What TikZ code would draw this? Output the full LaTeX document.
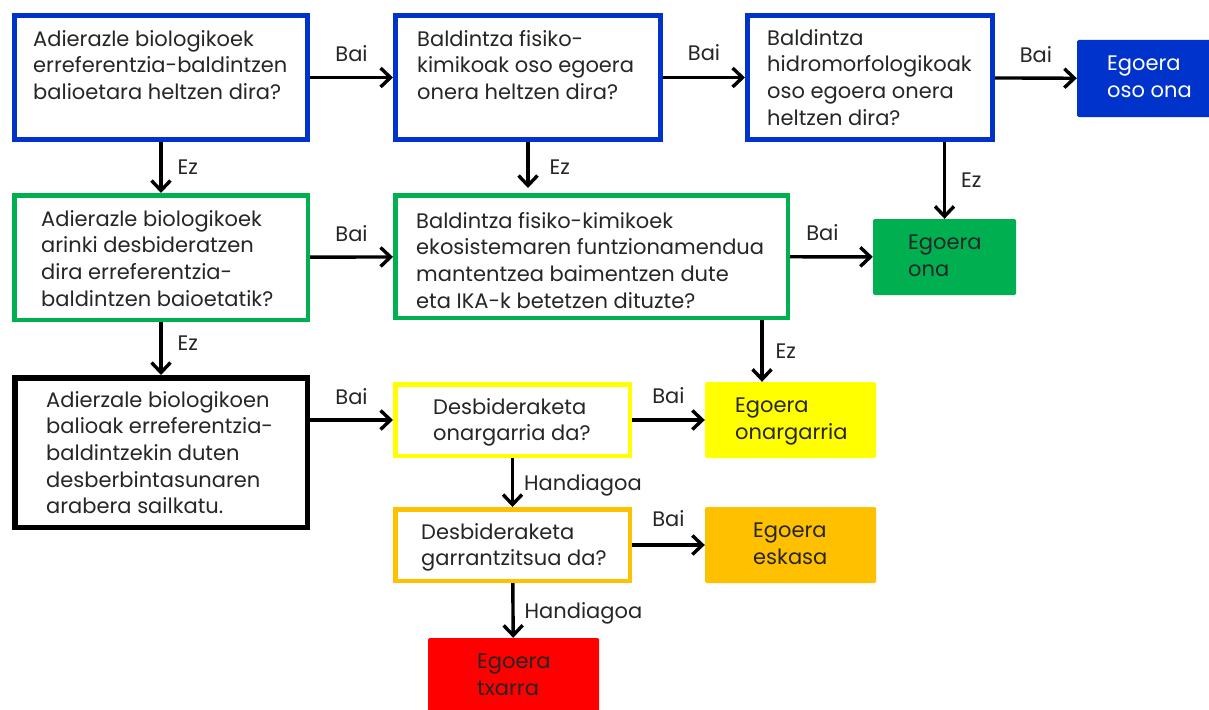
\documentclass[tikz,border=0pt]{standalone}
\usepackage{fontspec}
\setmainfont{Poppins}
\usetikzlibrary{arrows.meta}
\definecolor{qblue}{RGB}{0,51,204}
\definecolor{qgreen}{RGB}{0,176,80}
\definecolor{qyellow}{RGB}{255,255,0}
\definecolor{qorange}{RGB}{255,192,0}
\definecolor{qred}{RGB}{255,0,0}
\definecolor{qtext}{RGB}{38,38,38}

\begin{document}
\begin{tikzpicture}[x=1pt,y=-1pt,
  sz/.style 2 args={minimum width=#1pt,minimum height=#2pt},
  qbox/.style={draw=#1,line width=4.5pt,fill=white,inner sep=0pt},
  endbox/.style={fill=#1,rounded corners=1.5pt,inner sep=0pt},
  txt/.style={anchor=north west,inner sep=0pt,align=left,text=qtext,
    font=\fontsize{21}{26.7}\selectfont},
  lbl/.style={inner sep=0pt,text=qtext,text depth=0pt,
    font=\fontsize{21}{26}\selectfont},
  arr/.style={line width=3.4pt,-{Straight Barb[length=10pt,width=19pt]}}]
 \useasboundingbox (0,0) rectangle (1209,709);
 % question boxes
 \node[qbox=qblue,line width=5pt,sz={293}{124}] (a1) at (161,77.5) {};
 \node[qbox=qblue,line width=5pt,sz={265}{124}] (a2) at (528,77.5) {};
 \node[qbox=qblue,line width=5pt,sz={245}{124}] (a3) at (870,77.5) {};
 \node[qbox=qgreen,sz={293.5}{124.5}] (b1) at (161,257.5) {};
 \node[qbox=qgreen,sz={392.5}{122.5}] (b2) at (591.5,256.5) {};
 \node[qbox=black,line width=5.5pt,sz={292.5}{149.5}] (c1) at (161,452.5) {};
 \node[qbox=qyellow,sz={234.5}{71.5}] (d1) at (512.5,420) {};
 \node[qbox=qorange,sz={234.5}{71.5}] (d2) at (512.5,545) {};
 % result boxes
 \node[endbox=qblue,sz={138}{77}] (osoona) at (1146,78.5) {};
 \node[endbox=qgreen,sz={143}{76}] (ona) at (944.5,257) {};
 \node[endbox=qyellow,sz={171}{76}] (onarg) at (790.5,420) {};
 \node[endbox=qorange,sz={171}{76}] (eskasa) at (790.5,545) {};
 \node[endbox=qred,sz={171}{76}] (txarra) at (513.5,676) {};
 % texts
 \node[txt] (a1t) at (33,30) {Adierazle biologikoek\\erreferentzia-baldintzen\\balioetara heltzen dira?};
 \node[txt] (a2t) at (417,30) {Baldintza fisiko-\\kimikoak oso egoera\\onera heltzen dira?};
 \node[txt] (a3t) at (767,29) {Baldintza\\hidromorfologikoak\\oso egoera onera\\heltzen dira?};
 \node[txt] (b1t) at (41,210) {Adierazle biologikoek\\arinki desbideratzen\\dira erreferentzia-\\baldintzen baioetatik?};
 \node[txt] (b2t) at (416,212) {Baldintza fisiko-kimikoek\\ekosistemaren funtzionamendua\\mantentzea baimentzen dute\\eta IKA-k betetzen dituzte?};
 \node[txt] (c1t) at (46,391) {Adierzale biologikoen\\balioak erreferentzia-\\baldintzekin duten\\desberbintasunaren\\arabera sailkatu.};
 \node[txt] (d1t) at (433,398) {Desbideraketa\\onargarria da?};
 \node[txt] (d2t) at (421,523) {Desbideraketa\\garrantzitsua da?};
 \node[txt,text=white] (osoonat) at (1107,56) {Egoera\\oso ona};
 \node[txt] (onat) at (908,235) {Egoera\\ona};
 \node[txt] (onargt) at (735,398) {Egoera\\onargarria};
 \node[txt] (eskasat) at (753,523) {Egoera\\eskasa};
 \node[txt] (txarrat) at (477,654) {Egoera\\txarra};
 % arrows
 \draw[arr] (a1) -- node[lbl,above=14pt] (bai1) {Bai} (a2);
 \draw[arr] (a2) -- node[lbl,above=15pt] (bai2) {Bai} (a3);
 \draw[arr] (a3) -- node[lbl,above=14pt] (bai3) {Bai} (osoona);
 \draw[arr] (b1) -- node[lbl,above=14pt] (bai4) {Bai} (b2);
 \draw[arr] (b2) -- node[lbl,above=15pt,xshift=-9pt] (bai5) {Bai} (ona);
 \draw[arr] (c1.east |- d1) -- node[lbl,above=14pt] (bai6) {Bai} (d1);
 \draw[arr] (d1) -- node[lbl,above=15pt] (bai7) {Bai} (onarg);
 \draw[arr] (d2) -- node[lbl,above=17pt] (bai8) {Bai} (eskasa);
 \draw[arr] (a1) -- node[lbl,right=15pt] (ez1) {Ez} (b1);
 \draw[arr,shorten >=5pt] (a2) -- node[lbl,right=20pt] (ez2) {Ez} (a2 |- b2.north);
 \draw[arr] (a3.south -| ona) -- node[lbl,right=15pt] (ez3) {Ez} (ona);
 \draw[arr] (b1) -- node[lbl,right=15pt,pos=.4] (ez4) {Ez} (c1);
 \coordinate (b2z) at ([xshift=-28pt]b2.south east);
 \draw[arr] (b2z) -- node[lbl,right=12pt] (ez5) {Ez} (b2z |- onarg.north);
 \draw[arr] (d1) -- node[lbl,right=10pt] (hand1) {Handiagoa} (d2);
 \draw[arr] (d2) -- node[lbl,right=10pt] (hand2) {Handiagoa} (txarra);
\end{tikzpicture}
\end{document}
